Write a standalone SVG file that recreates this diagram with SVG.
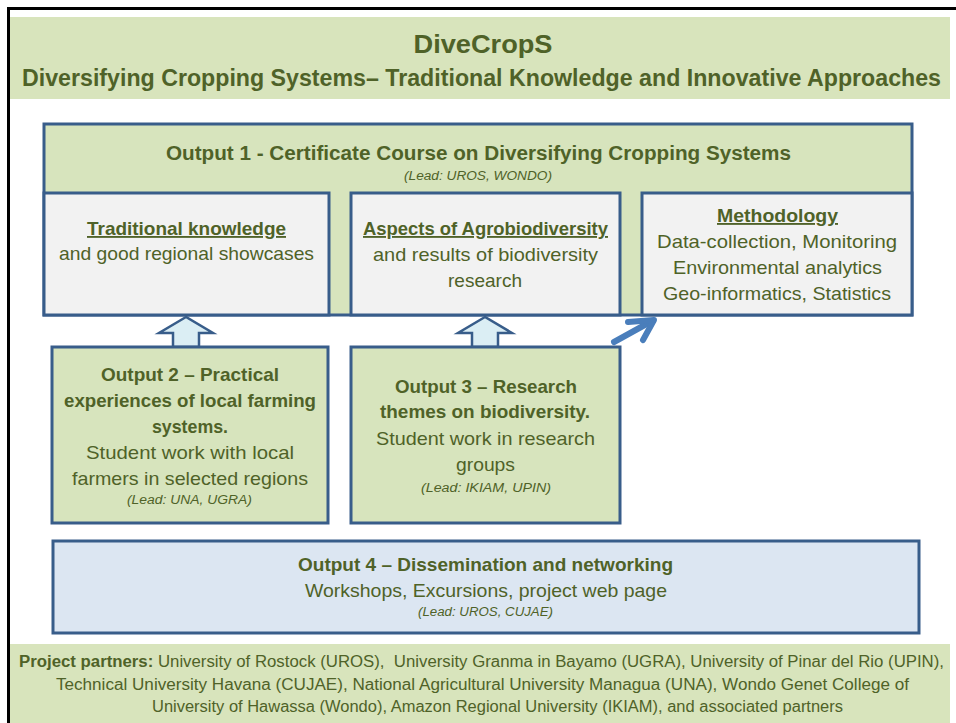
<svg xmlns="http://www.w3.org/2000/svg" width="956" height="723" viewBox="0 0 956 723">
<style>
text{font-family:"Liberation Sans","Open Sans",sans-serif;fill:#4f6228;text-anchor:middle;}
.b{font-weight:bold;}
.i{font-style:italic;font-size:12px;}
.t{font-size:18.5px;}
.u{text-decoration:underline;}
.box{stroke:#385d8a;stroke-width:3;}
.g{fill:#d7e4bd;}
.w{fill:#f2f2f2;}
.blk{fill:#dce6f2;}
.band{fill:#d8e4bc;}
.up{fill:#dbeef4;stroke:#385d8a;stroke-width:2.5;stroke-linejoin:miter;}
</style>
<rect x="0" y="0" width="956" height="723" fill="#ffffff"/>
<rect x="8.5" y="8.5" width="980" height="740" fill="#ffffff" stroke="#000000" stroke-width="3"/>
<g id="header">
<rect class="band" x="10" y="17" width="940" height="82"/>
<text class="b" x="483" y="53" font-size="26.5" textLength="139" lengthAdjust="spacingAndGlyphs">DiveCropS</text>
<text class="b" x="481.5" y="86" font-size="23.5" textLength="919" lengthAdjust="spacingAndGlyphs">Diversifying Cropping Systems– Traditional Knowledge and Innovative Approaches</text>
</g>
<g id="output1">
<rect class="box g" x="44" y="124" width="868" height="191"/>
<text class="b" x="478.5" y="160" font-size="20" textLength="625" lengthAdjust="spacingAndGlyphs">Output 1 - Certificate Course on Diversifying Cropping Systems</text>
<text class="i" x="478" y="180" textLength="148" lengthAdjust="spacingAndGlyphs">(Lead: UROS, WONDO)</text>
</g>
<g id="traditional">
<rect class="box w" x="44" y="193" width="285" height="122"/>
<text class="t b u" x="186.5" y="235" textLength="199" lengthAdjust="spacingAndGlyphs">Traditional knowledge</text>
<text class="t" x="186.5" y="260" textLength="255" lengthAdjust="spacingAndGlyphs">and good regional showcases</text>
</g>
<g id="agrobiodiversity">
<rect class="box w" x="351" y="193" width="269" height="122"/>
<text class="t b u" x="485.5" y="235" textLength="245" lengthAdjust="spacingAndGlyphs">Aspects of Agrobiodiversity</text>
<text class="t" x="485.5" y="261" textLength="225" lengthAdjust="spacingAndGlyphs">and results of biodiversity</text>
<text class="t" x="485" y="287" textLength="74" lengthAdjust="spacingAndGlyphs">research</text>
</g>
<g id="methodology">
<rect class="box w" x="642" y="193" width="270" height="122"/>
<text class="t b u" x="777.5" y="222" textLength="121" lengthAdjust="spacingAndGlyphs">Methodology</text>
<text class="t" x="777" y="248" textLength="240" lengthAdjust="spacingAndGlyphs">Data-collection, Monitoring</text>
<text class="t" x="777.5" y="274" textLength="209" lengthAdjust="spacingAndGlyphs">Environmental analytics</text>
<text class="t" x="777" y="300" textLength="228" lengthAdjust="spacingAndGlyphs">Geo-informatics, Statistics</text>
</g>
<g id="connectors">
<path class="up" d="M186,317 L159,333 L173,333 L173,347 L199,347 L199,333 L213,333 Z"/>
<path class="up" d="M485,317 L458,333 L472,333 L472,347 L498,347 L498,333 L512,333 Z"/>
<g fill="none" stroke="#4a7ebb" stroke-width="6" stroke-linecap="round" stroke-linejoin="round">
<line x1="614" y1="342" x2="652" y2="321"/>
<polyline points="628,322 654,320 643,340"/>
</g>
</g>
<g id="output2">
<rect class="box g" x="52" y="347" width="276" height="176"/>
<text class="t b" x="190" y="381" textLength="178" lengthAdjust="spacingAndGlyphs">Output 2 – Practical</text>
<text class="t b" x="190" y="407" textLength="252" lengthAdjust="spacingAndGlyphs">experiences of local farming</text>
<text class="t b" x="190" y="433" textLength="76" lengthAdjust="spacingAndGlyphs">systems.</text>
<text class="t" x="190" y="459" textLength="208" lengthAdjust="spacingAndGlyphs">Student work with local</text>
<text class="t" x="190" y="485" textLength="236" lengthAdjust="spacingAndGlyphs">farmers in selected regions</text>
<text class="i" x="189.5" y="504" textLength="125" lengthAdjust="spacingAndGlyphs">(Lead: UNA, UGRA)</text>
</g>
<g id="output3">
<rect class="box g" x="351" y="347" width="269" height="176"/>
<text class="t b" x="486" y="393" textLength="182" lengthAdjust="spacingAndGlyphs">Output 3 – Research</text>
<text class="t b" x="485" y="418" textLength="210" lengthAdjust="spacingAndGlyphs">themes on biodiversity.</text>
<text class="t" x="485.5" y="445" textLength="219" lengthAdjust="spacingAndGlyphs">Student work in research</text>
<text class="t" x="485.5" y="471" textLength="59" lengthAdjust="spacingAndGlyphs">groups</text>
<text class="i" x="486" y="492" textLength="130" lengthAdjust="spacingAndGlyphs">(Lead: IKIAM, UPIN)</text>
</g>
<g id="output4">
<rect class="box blk" x="53" y="541" width="866" height="92"/>
<text class="t b" x="485.5" y="571" textLength="375" lengthAdjust="spacingAndGlyphs">Output 4 – Dissemination and networking</text>
<text class="t" x="486" y="597" textLength="362" lengthAdjust="spacingAndGlyphs">Workshops, Excursions, project web page</text>
<text class="i" x="485.5" y="616" textLength="135" lengthAdjust="spacingAndGlyphs">(Lead: UROS, CUJAE)</text>
</g>
<g id="partners">
<rect class="band" x="10" y="644" width="940" height="79"/>
<text x="481.5" y="667" font-size="16" textLength="925" lengthAdjust="spacingAndGlyphs" xml:space="preserve"><tspan class="b">Project partners:</tspan> University of Rostock (UROS),  University Granma in Bayamo (UGRA), University of Pinar del Rio (UPIN),</text>
<text x="482.5" y="690" font-size="16" textLength="853" lengthAdjust="spacingAndGlyphs">Technical University Havana (CUJAE), National Agricultural University Managua (UNA), Wondo Genet College of</text>
<text x="497.5" y="712" font-size="16" textLength="691" lengthAdjust="spacingAndGlyphs">University of Hawassa (Wondo), Amazon Regional University (IKIAM), and associated partners</text>
</g>
</svg>
